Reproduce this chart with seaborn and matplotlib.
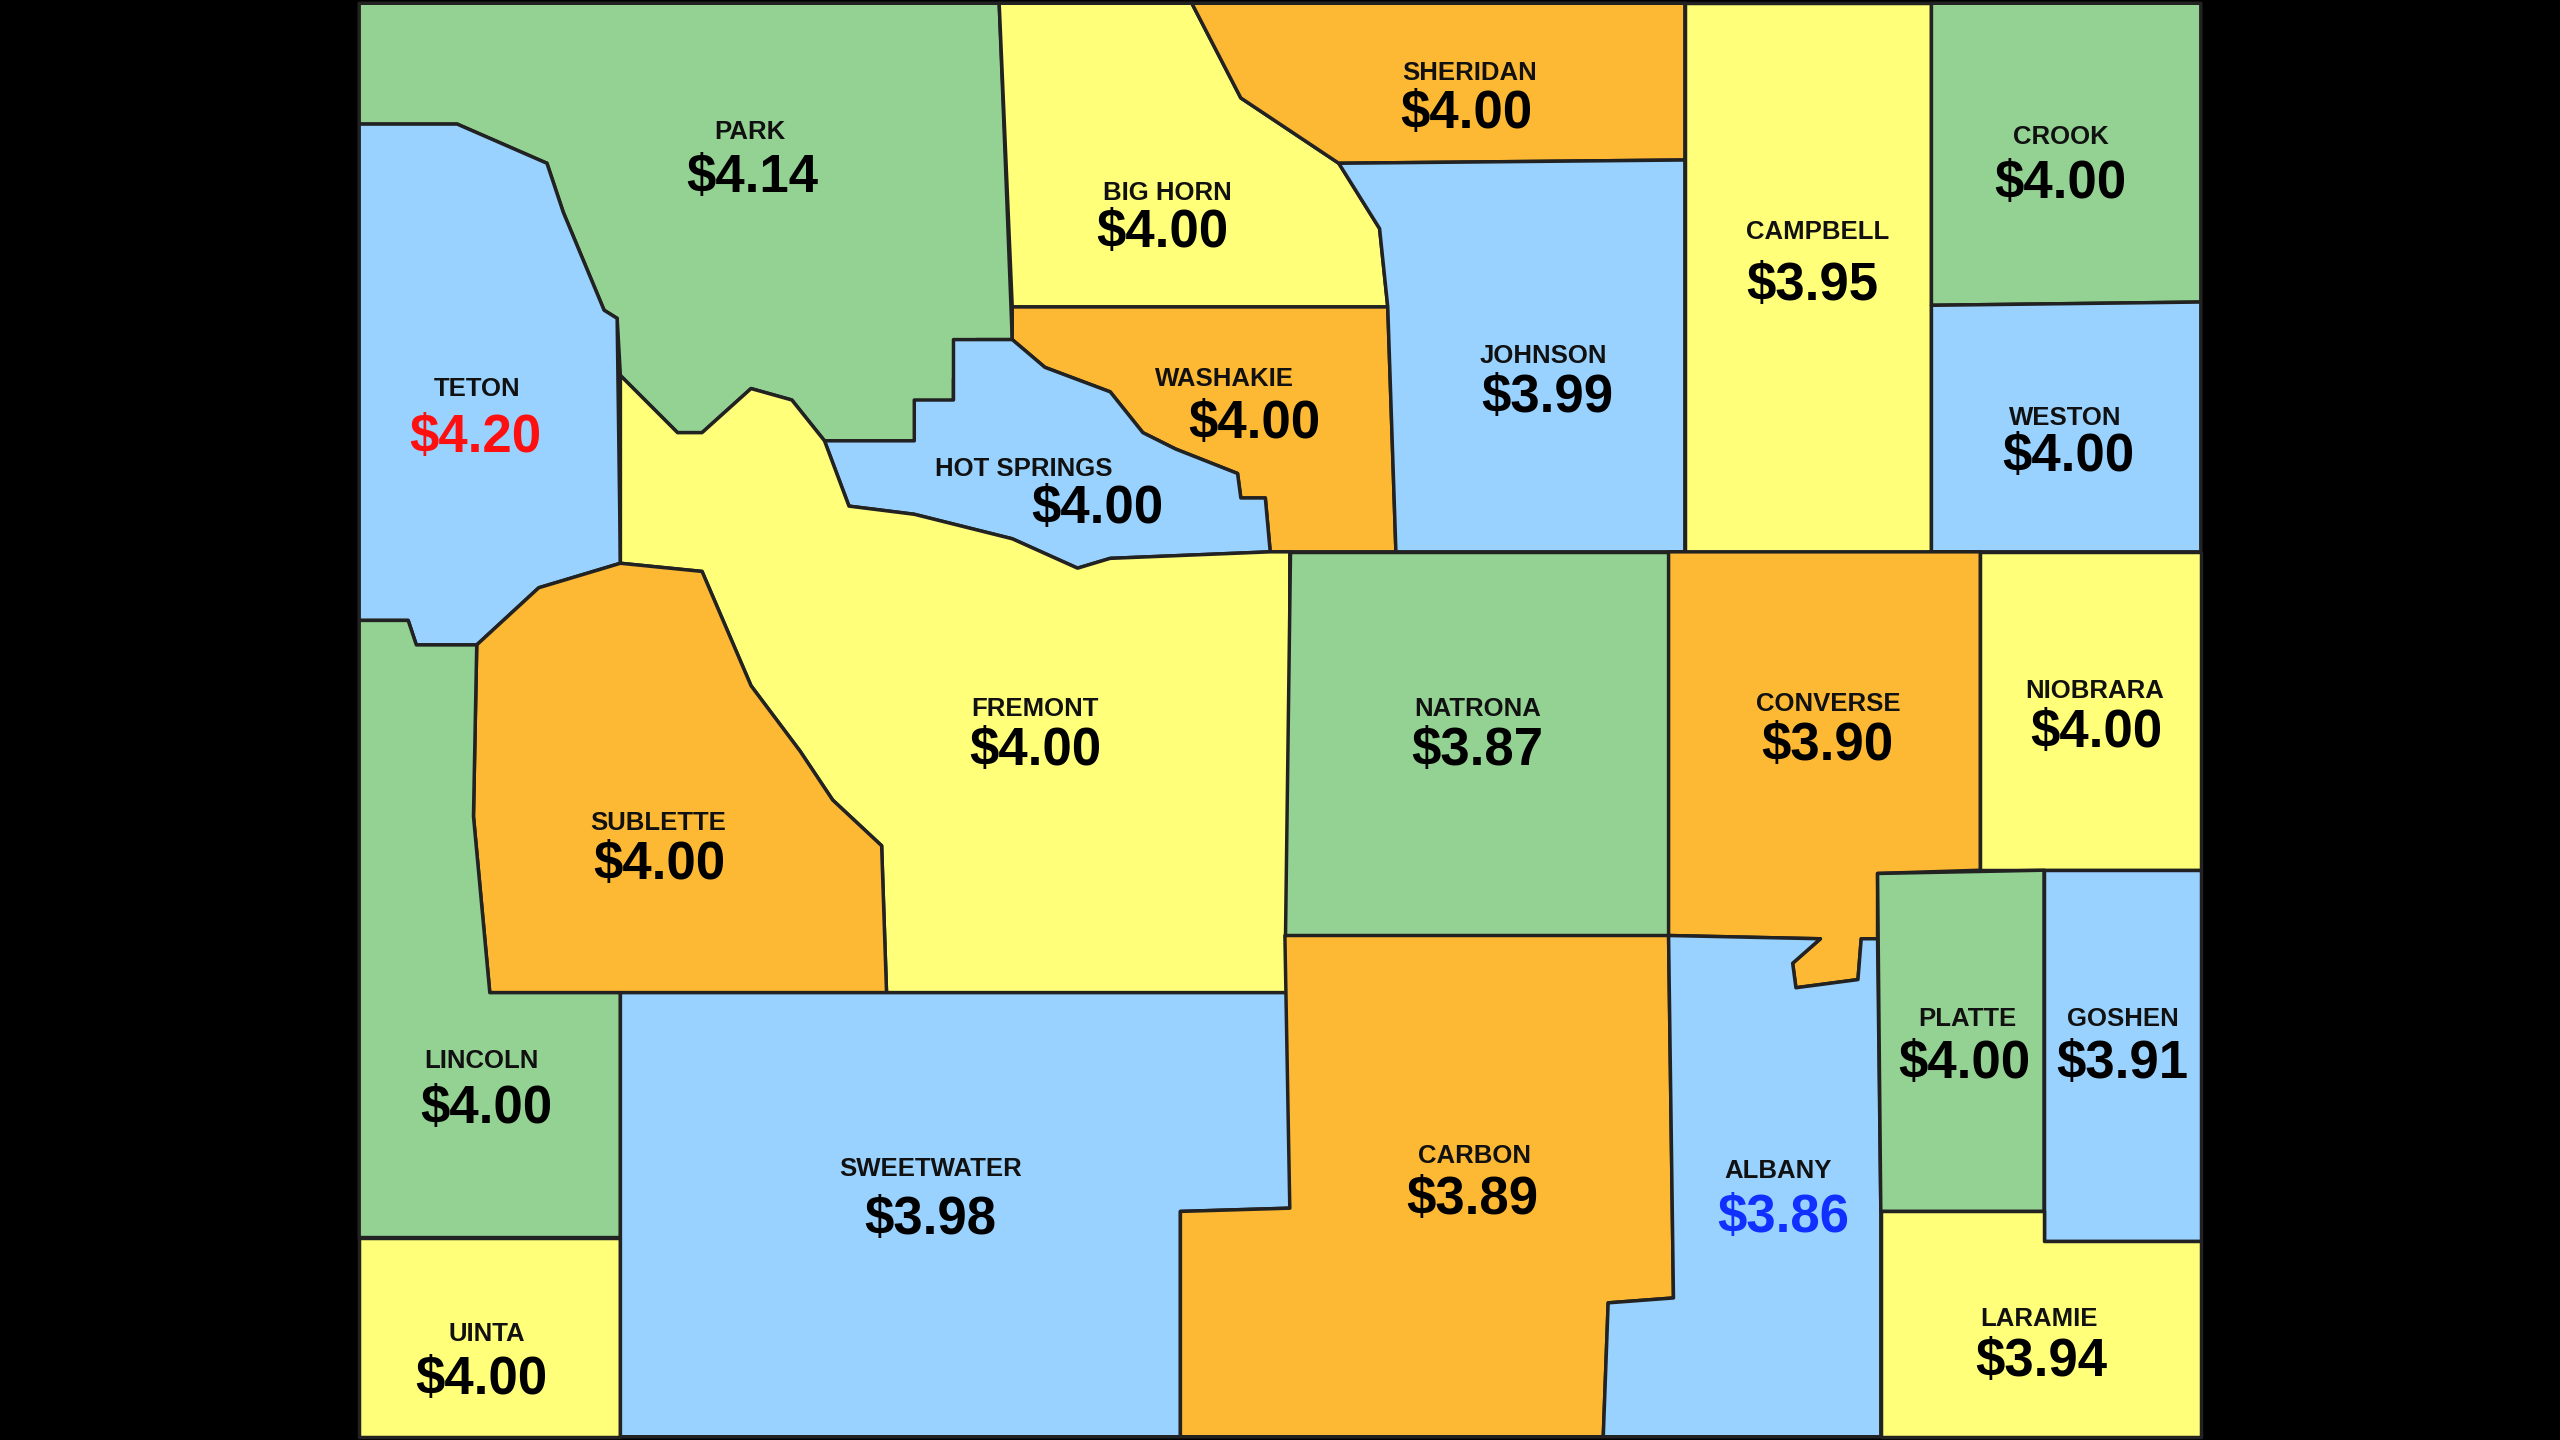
import matplotlib
matplotlib.use("Agg")
import matplotlib.pyplot as plt
from matplotlib.patches import Polygon
import seaborn as sns

sns.set_theme(style="white")
plt.rcParams['font.family'] = ['Liberation Sans', 'DejaVu Sans']

counties = ["PARK","TETON","BIG HORN","SHERIDAN","WASHAKIE","HOT SPRINGS","JOHNSON","CAMPBELL",
            "CROOK","WESTON","FREMONT","SUBLETTE","LINCOLN","UINTA","SWEETWATER","NATRONA",
            "CARBON","CONVERSE","NIOBRARA","ALBANY","PLATTE","GOSHEN","LARAMIE"]
prices = [4.14,4.20,4.00,4.00,4.00,4.00,3.99,3.95,4.00,4.00,4.00,4.00,4.00,4.00,3.98,3.87,
          3.89,3.90,4.00,3.86,4.00,3.91,3.94]
fill_group = ["g","b","y","o","o","b","b","y","g","b","y","o","g","y","b","g","o","o","y","b","g","b","y"]
palette = {"g":"#93D293","b":"#99D2FF","y":"#FFFF7A","o":"#FDB933"}
price_color = {"TETON":"#FF1010","ALBANY":"#1030FF"}

shapes = {
 "PARK":[(220,2),(612,2),(620,208),(598,208),(598,232),(584,232),(584,270),(505,270),(485,245),(460,238),(430,265),(415,265),(380,230),(378,195),(370,190),(345,130),(335,100),(280,76),(220,76)],
 "TETON":[(220,76),(280,76),(335,100),(345,130),(370,190),(378,195),(380,345),(330,360),(292,395),(255,395),(250,380),(220,380)],
 "BIG HORN":[(612,2),(730,2),(760,60),(820,100),(845,140),(850,188),(620,188)],
 "SHERIDAN":[(730,2),(1032,2),(1032,98),(820,100),(760,60)],
 "WASHAKIE":[(620,188),(850,188),(855,338),(778,338),(775,305),(760,305),(758,290),(720,275),(700,265),(680,240),(640,225),(620,208)],
 "HOT SPRINGS":[(584,208),(620,208),(640,225),(680,240),(700,265),(720,275),(758,290),(760,305),(775,305),(778,338),(680,342),(660,348),(620,330),(560,315),(520,310),(505,270),(560,270),(560,245),(584,245)],
 "JOHNSON":[(820,100),(1032,98),(1032,338),(855,338),(850,188),(845,140)],
 "CAMPBELL":[(1032,2),(1183,2),(1183,338),(1032,338)],
 "CROOK":[(1183,2),(1348,2),(1348,185),(1183,187)],
 "WESTON":[(1183,187),(1348,185),(1348,338),(1183,338)],
 "FREMONT":[(380,230),(415,265),(430,265),(460,238),(485,245),(505,270),(520,310),(560,315),(620,330),(660,348),(680,342),(778,338),(790,338),(790,608),(543,608),(540,518),(510,490),(490,460),(460,420),(430,350),(380,345)],
 "SUBLETTE":[(292,395),(330,360),(380,345),(430,350),(460,420),(490,460),(510,490),(540,518),(543,608),(300,608),(290,500)],
 "LINCOLN":[(220,380),(250,380),(255,395),(292,395),(290,500),(300,608),(380,608),(380,758),(220,758)],
 "UINTA":[(220,758),(380,758),(380,880),(220,880)],
 "SWEETWATER":[(380,608),(790,608),(790,740),(723,742),(723,880),(380,880)],
 "NATRONA":[(790,338),(1022,338),(1022,573),(787,573)],
 "CARBON":[(787,573),(1022,573),(1025,795),(985,798),(982,880),(723,880),(723,742),(790,740)],
 "CONVERSE":[(1022,338),(1213,338),(1213,533),(1150,535),(1150,575),(1140,575),(1138,600),(1100,605),(1098,590),(1115,575),(1022,573)],
 "NIOBRARA":[(1213,338),(1348,338),(1348,533),(1213,533)],
 "ALBANY":[(1022,573),(1115,575),(1098,590),(1100,605),(1138,600),(1140,575),(1150,575),(1152,740),(1152,880),(982,880),(985,798),(1025,795)],
 "PLATTE":[(1150,535),(1252,533),(1252,742),(1152,742)],
 "GOSHEN":[(1252,533),(1348,533),(1348,760),(1252,760)],
 "LARAMIE":[(1152,742),(1252,742),(1252,760),(1348,760),(1348,880),(1152,880)],
}
label_pos = {
 "PARK":((459,81),(461,108)),"TETON":((292,238),(291,267)),"BIG HORN":((715,118),(712,142)),
 "SHERIDAN":((900,45),(898,69)),"WASHAKIE":((750,232),(768,259)),"HOT SPRINGS":((627,287),(672,311)),
 "JOHNSON":((945,218),(948,243)),"CAMPBELL":((1113,142),(1110,174)),"CROOK":((1262,84),(1262,112)),
 "WESTON":((1265,256),(1267,279)),"FREMONT":((634,434),(634,459)),"SUBLETTE":((403,504),(404,529)),
 "LINCOLN":((295,650),(298,678)),"UINTA":((298,817),(295,844)),"SWEETWATER":((570,716),(570,746)),
 "NATRONA":((905,434),(905,459)),"CARBON":((903,708),(902,734)),"CONVERSE":((1120,431),(1119,456)),
 "NIOBRARA":((1283,423),(1284,448)),"ALBANY":((1089,717),(1092,745)),"PLATTE":((1205,624),(1203,651)),
 "GOSHEN":((1300,624),(1300,651)),"LARAMIE":((1249,808),(1250,833)),
}

fig = plt.figure(figsize=(25.6, 14.4), dpi=100, facecolor="black")
ax = fig.add_axes([0, 0, 1, 1])
ax.set_facecolor("black")
ax.set_xlim(0, 1568); ax.set_ylim(882, 0)
ax.axis("off")

for name, price, grp in zip(counties, prices, fill_group):
    ax.add_patch(Polygon(shapes[name], closed=True, facecolor=palette[grp],
                         edgecolor="#222222", linewidth=2.5, joinstyle="round"))
    (nx, ny), (px, py) = label_pos[name]
    ax.text(nx, ny, name, ha="center", va="center", fontsize=18.5, fontweight="bold", color="#111111")
    ax.text(px, py + 1, f"${price:.2f}", ha="center", va="center", fontsize=38, fontweight="bold",
            color=price_color.get(name, "#000000"))

fig.savefig("out.png", dpi=100, facecolor="black")
